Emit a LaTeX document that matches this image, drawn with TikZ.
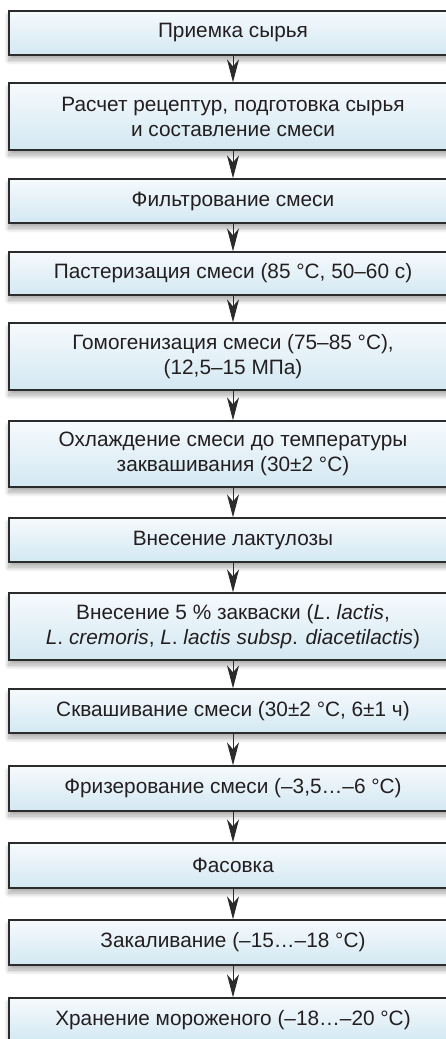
\documentclass[tikz,border=0pt]{standalone}
\usepackage{fontspec}
\setmainfont{Liberation Sans}
\usetikzlibrary{arrows.meta,shadows.blur}
\definecolor{txt}{HTML}{231F20}
\definecolor{frame}{HTML}{2B2B2B}
\definecolor{topc}{HTML}{F6FAFD}
\definecolor{botc}{HTML}{D3E8F2}
\tikzset{
  stepbox/.style={draw=frame, line width=1.3pt, top color=topc, bottom color=botc,
    minimum width=448pt, inner sep=0pt, align=center, text=txt,
    font=\fontsize{20.8}{25}\selectfont,
    blur shadow={shadow xshift=0pt, shadow yshift=-5pt, shadow blur steps=10, shadow blur radius=5pt, shadow opacity=35}},
  flow/.style={draw=frame, line width=1pt, -{Stealth[length=23pt, width=12pt, inset=7pt]}}
}
\begin{document}
\begin{tikzpicture}[x=1pt,y=-1pt]
\useasboundingbox (0,0) rectangle (446,1039);
\clip (0,0) rectangle (446,1039);
\def\bx#1#2#3#4{\node[stepbox, minimum height=#3-#2] (#1) at (233,{(#2+#3)/2}) {#4};}
\bx{b1}{11}{55}{Приемка сырья}
\bx{b2}{83}{150}{Расчет рецептур, подготовка сырья\\и составление смеси}
\bx{b3}{179}{223}{Фильтрование смеси}
\bx{b4}{252}{295}{Пастеризация смеси (85 °C, 50–60 с)}
\bx{b5}{323}{390}{Гомогенизация смеси (75–85 °C),\\(12,5–15 МПа)}
\bx{b6}{421}{487}{Охлаждение смеси до температуры\\заквашивания (30±2 °C)}
\bx{b7}{518}{562}{Внесение лактулозы}
\bx{b8}{593}{660}{Внесение 5 \% закваски (\textit{L}. \textit{lactis},\\\textit{L}. \textit{cremoris}, \textit{L}. \textit{lactis subsp}. \textit{diacetilactis})}
\bx{b9}{689}{733}{Сквашивание смеси (30±2 °C, 6±1 ч)}
\bx{b10}{766}{811}{Фризерование смеси (–3,5…–6 °C)}
\bx{b11}{843}{888}{Фасовка}
\bx{b12}{920}{965}{Закаливание (–15…–18 °C)}
\bx{b13}{998}{1042}{Хранение мороженого (–18…–20 °C)}
\foreach \a/\b in {b1/b2,b2/b3,b3/b4,b4/b5,b5/b6,b6/b7,b7/b8,b8/b9,b9/b10,b10/b11,b11/b12,b12/b13}
  \draw[flow] (\a.south) -- (\b.north);
\end{tikzpicture}
\end{document}
